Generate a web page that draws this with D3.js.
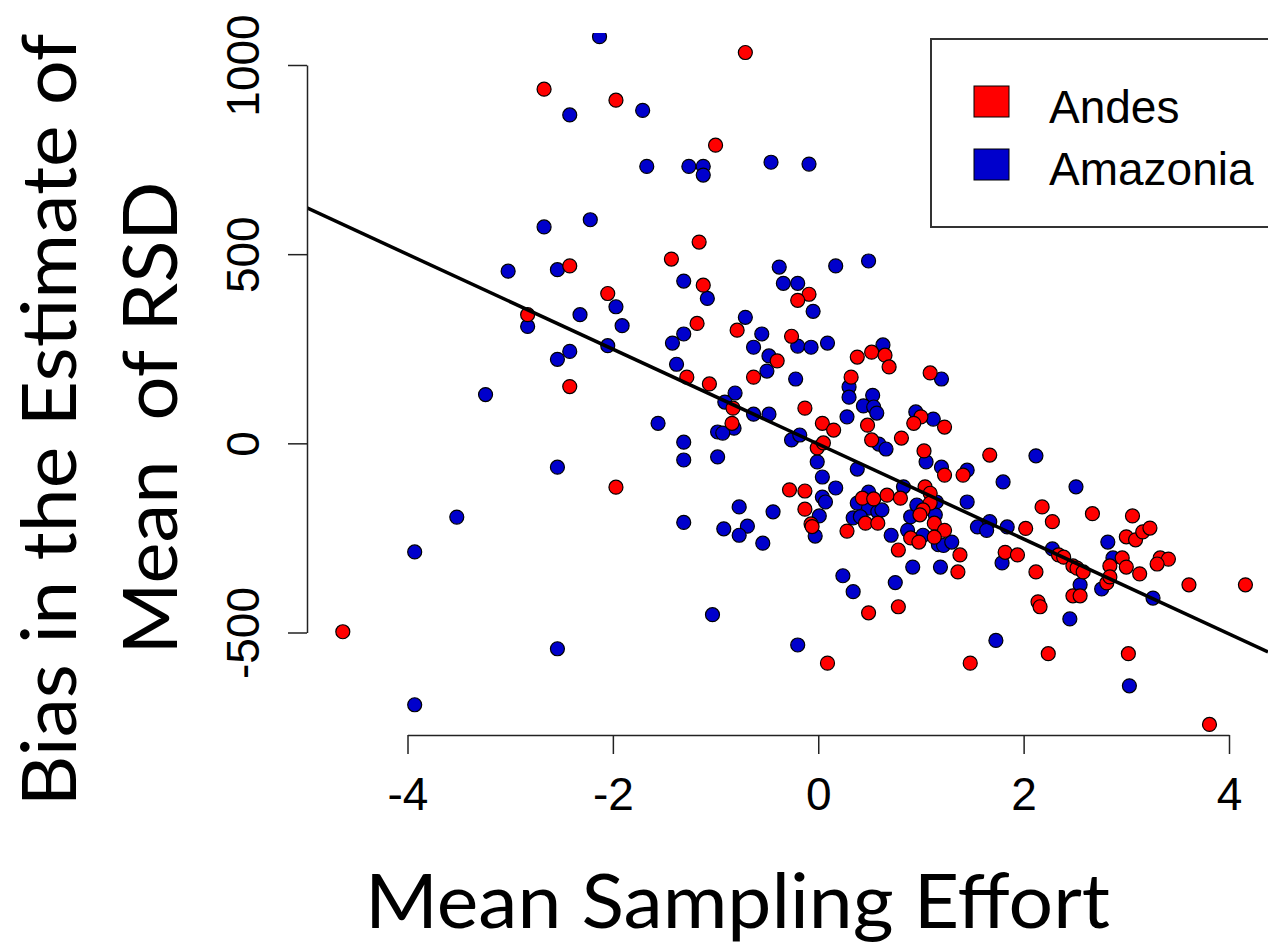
<!DOCTYPE html>
<html>
<head>
    <meta charset="utf-8">
    <title>Bias vs Mean Sampling Effort</title>
    <script src="https://cdn.jsdelivr.net/npm/d3@7/dist/d3.min.js"></script>
    <style>
        body { margin: 0; background: #fff; }
        svg { display: block; }
    </style>
</head>
<body>
<script>
    // values: [mean sampling effort, bias]
    var andes = [
        [-2.67, 936], [-1.97, 907], [-2.42, 469], [-2.05, 396], [-2.83, 340], [-2.42, 150],
        [-1.97, -116], [-4.63, -498], [-0.71, 1033], [-1.00, 788], [-1.16, 532], [-1.43, 487],
        [-1.12, 418], [-0.09, 394], [-0.20, 378], [-1.18, 317], [-0.79, 299], [-0.26, 283],
        [-0.40, 218], [-0.63, 175], [-1.28, 175], [-1.06, 157], [-0.83, 93], [-0.84, 53],
        [-0.13, 93], [-0.01, -12], [0.05, 1], [0.04, 53], [0.15, 35], [-0.28, -123],
        [-0.13, -126], [0.32, 175], [0.38, 228], [0.52, 241], [0.65, 233], [0.69, 202],
        [0.48, 48], [0.52, 9], [0.81, 14], [1.09, 186], [1.00, 70], [0.93, 53], [1.23, 43],
        [1.03, -20], [1.23, -84], [1.04, -115], [0.43, -145], [0.54, -147], [0.67, -137],
        [0.80, -145], [1.09, -132], [1.67, -31], [1.41, -84], [-0.13, -174], [-0.07, -213],
        [-0.06, -220], [0.28, -232], [1.09, -158], [1.02, -176], [0.99, -189], [0.46, -211],
        [0.58, -211], [1.13, -211], [1.23, -230], [0.90, -250], [0.98, -261], [1.13, -248],
        [0.78, -282], [1.38, -295], [1.36, -340], [1.82, -288], [1.94, -295], [0.09, -581],
        [0.49, -448], [0.78, -432], [2.02, -225], [2.18, -168], [2.28, -207], [2.67, -186],
        [3.06, -192], [3.00, -247], [3.09, -255], [3.16, -234], [3.23, -224], [3.33, -303],
        [3.41, -306], [3.30, -319], [2.96, -303], [3.00, -327], [2.84, -324], [3.13, -345],
        [3.61, -374], [4.16, -374], [2.81, -369], [2.84, -353], [2.34, -295], [2.39, -301],
        [2.48, -324], [2.52, -330], [2.58, -340], [2.48, -403], [2.55, -403], [2.12, -340],
        [2.14, -419], [2.16, -432], [2.24, -556], [3.02, -556], [3.81, -743], [1.48, -581]
    ];
    var amazonia = [
        [-2.13, 1075], [-2.42, 868], [-2.67, 572], [-2.22, 591], [-3.02, 455], [-2.54, 459],
        [-1.97, 361], [-1.91, 311], [-2.32, 340], [-2.83, 309], [-2.05, 258], [-2.42, 243],
        [-2.54, 222], [-3.24, 129], [-2.54, -63], [-3.52, -195], [-3.93, -287], [-2.54, -543],
        [-3.93, -691], [-1.71, 880], [-1.67, 732], [-1.26, 732], [-1.12, 732], [-1.12, 709],
        [-0.46, 743], [-0.09, 738], [-0.38, 466], [0.17, 469], [0.49, 482], [-1.31, 429],
        [-1.08, 383], [-0.34, 423], [-0.20, 423], [-0.05, 349], [-1.31, 289], [-1.42, 265],
        [-0.71, 333], [-0.55, 289], [-0.63, 254], [-0.20, 257], [-0.07, 254], [0.09, 265],
        [-0.48, 231], [-0.50, 191], [-1.38, 209], [-0.22, 170], [-0.81, 133], [-0.91, 109],
        [-0.63, 77], [-0.48, 77], [-1.56, 53], [-0.82, 40], [-0.98, 30], [-0.93, 27],
        [-1.31, 3], [-1.31, -44], [-0.98, -36], [-0.26, 9], [-0.18, 22], [0.28, 70],
        [-0.01, -49], [0.04, -89], [0.17, -118], [0.04, -142], [0.38, -68], [0.30, 149],
        [0.30, 122], [0.63, 260], [0.53, 127], [0.44, 99], [0.54, 96], [0.57, 80],
        [0.59, -2], [0.66, -15], [1.20, 170], [0.95, 83], [1.12, 64], [1.05, -49],
        [1.20, -63], [0.83, -115], [0.49, -129], [1.45, -71], [1.80, -102], [0.07, -155],
        [0.01, -192], [-0.03, -245], [0.34, -197], [0.38, -158], [0.49, -171], [0.58, -181],
        [0.62, -176], [0.41, -194], [0.90, -194], [0.96, -163], [1.15, -155], [1.14, -189],
        [0.87, -230], [1.02, -243], [0.71, -243], [1.17, -268], [1.22, -270], [1.30, -261],
        [0.92, -327], [1.19, -327], [0.24, -350], [0.34, -392], [0.75, -368], [1.79, -316],
        [1.45, -155], [1.55, -221], [1.67, -207], [1.64, -230], [1.84, -221], [-1.31, -209],
        [-0.77, -168], [-0.44, -181], [-0.92, -226], [-0.69, -219], [-0.77, -243], [-0.54, -264],
        [-1.03, -453], [-0.20, -533], [2.82, -261], [2.87, -303], [3.26, -409], [2.76, -385],
        [2.28, -279], [2.55, -374], [2.45, -464], [3.03, -641], [1.73, -521], [2.51, -115],
        [2.12, -33]
    ];
    var xTicks = [-4, -2, 0, 2, 4];
    var yTicks = [-500, 0, 500, 1000];
    var legendLabels = ["Andes", "Amazonia"];
    var legendColors = ["#ff0000", "#0000cc"];
    // fitted line
    var fitIntercept = -2, fitSlope = -125.4;

    var width = 1268, height = 946;
    var plotLeft = 307, plotTop = 33, plotBottom = 735;

    var x = d3.scaleLinear().domain([-4, 4]).range([407.5, 1229]);
    var y = d3.scaleLinear().domain([-500, 1000]).range([632.5, 65]);

    var svg = d3.select("body").append("svg")
        .attr("width", width)
        .attr("height", height);

    svg.append("clipPath").attr("id", "plotclip")
        .append("rect")
        .attr("x", plotLeft).attr("y", plotTop)
        .attr("width", width - plotLeft).attr("height", plotBottom - plotTop);

    var plot = svg.append("g").attr("clip-path", "url(#plotclip)");

    function drawPoints(data, color) {
        plot.append("g").selectAll("circle")
            .data(data)
            .enter()
            .append("circle")
            .attr("cx", function(d) { return x(d[0]); })
            .attr("cy", function(d) { return y(d[1]); })
            .attr("r", 7)
            .attr("fill", color)
            .attr("stroke", "#000")
            .attr("stroke-width", 1.2);
    }
    drawPoints(amazonia, legendColors[1]);
    drawPoints(andes, legendColors[0]);

    // regression line over the whole plot width
    var x0 = x.invert(plotLeft), x1 = x.invert(width);
    plot.append("line")
        .attr("x1", x(x0)).attr("y1", y(fitIntercept + fitSlope * x0))
        .attr("x2", x(x1)).attr("y2", y(fitIntercept + fitSlope * x1))
        .attr("stroke", "#000")
        .attr("stroke-width", 3.5);

    // axes, R style
    var tickFont = "'Liberation Sans', Arial, sans-serif";
    var fmt = function(d) { return d < 0 ? "-" + Math.abs(d) : d; };
    var xAxis = d3.axisBottom(x).tickValues(xTicks).tickSize(19).tickSizeOuter(0).tickPadding(23)
        .tickFormat(fmt);
    var gx = svg.append("g")
        .attr("transform", "translate(0," + plotBottom + ")")
        .call(xAxis);
    gx.selectAll("text").attr("font-size", 46).attr("font-family", tickFont).attr("fill", "#000");

    var yAxis = d3.axisLeft(y).tickValues(yTicks).tickSize(19).tickSizeOuter(0)
        .tickFormat(fmt);
    var gy = svg.append("g")
        .attr("transform", "translate(" + plotLeft + ",0)")
        .call(yAxis);
    gy.selectAll("text")
        .attr("font-size", 46).attr("font-family", tickFont).attr("fill", "#000")
        .attr("transform", "rotate(-90)")
        .attr("x", 0).attr("y", -48).attr("dy", 0)
        .attr("text-anchor", "middle");

    svg.selectAll(".domain, .tick line").attr("stroke", "#222").attr("stroke-width", 1.5);

    // legend
    var lg = svg.append("g");
    lg.append("rect")
        .attr("x", 931).attr("y", 39).attr("width", 400).attr("height", 188)
        .attr("fill", "#fff").attr("stroke", "#333").attr("stroke-width", 2);
    legendLabels.forEach(function(label, i) {
        lg.append("rect")
            .attr("x", 974).attr("y", 86 + i * 63).attr("width", 35).attr("height", 31)
            .attr("fill", legendColors[i]).attr("stroke", "#000").attr("stroke-width", 1);
        lg.append("text")
            .attr("x", 1049).attr("y", 123 + i * 62)
            .attr("font-size", 46).attr("font-family", tickFont)
            .text(label);
    });

    // axis titles
    var titleFont = "Lato, 'Open Sans', sans-serif";
    svg.append("text")
        .attr("x", 365).attr("y", 928)
        .attr("font-size", 76).attr("font-family", titleFont)
        .attr("textLength", 745).attr("lengthAdjust", "spacingAndGlyphs")
        .text("Mean Sampling Effort");

    svg.append("text")
        .attr("transform", "translate(76,420) rotate(-90)")
        .attr("text-anchor", "middle")
        .attr("font-size", 76).attr("font-family", titleFont)
        .attr("textLength", 773).attr("lengthAdjust", "spacingAndGlyphs")
        .text("Bias in the Estimate of");

    svg.append("text")
        .attr("transform", "translate(177,418) rotate(-90)")
        .attr("text-anchor", "middle")
        .attr("font-size", 76).attr("font-family", titleFont)
        .attr("textLength", 473).attr("lengthAdjust", "spacingAndGlyphs")
        .style("white-space", "pre")
        .text("Mean  of RSD");
</script>
</body>
</html>
